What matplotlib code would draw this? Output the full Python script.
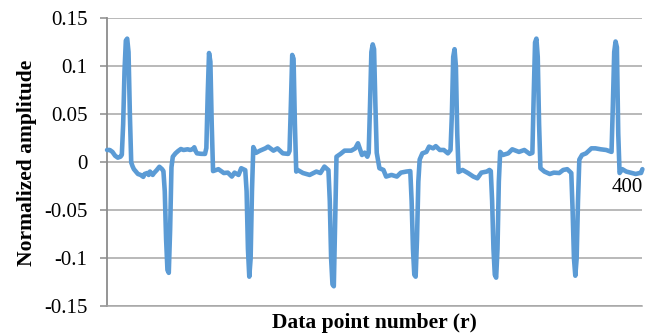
import matplotlib
matplotlib.use("Agg")
import matplotlib.pyplot as plt
import numpy as np

# data point number (r) and normalized amplitude
point_no = [1, 3, 5, 7, 9, 11, 12, 13, 14, 15, 16, 17, 18, 19, 20, 21, 24, 26, 28, 29,
            31, 32, 33, 35, 36, 38, 40, 42, 43, 44, 45, 46, 47, 48, 49, 50, 52, 54, 56, 58,
            61, 63, 65, 66, 67, 68, 71, 74, 75, 76, 77, 78, 79, 80,
            84, 88, 91, 94, 96, 99, 101, 104, 105, 106, 107, 108, 109, 110, 112, 115, 119,
            121, 125, 128, 132, 136, 137, 138, 139, 140, 141, 142,
            143, 147, 152, 157, 160, 163, 166, 167, 168, 169, 170, 171, 172, 175, 178, 183,
            186, 188, 191, 193, 195, 196, 197, 198, 199, 200, 201, 202, 204,
            207, 209, 213, 217, 220, 224, 227, 228, 229, 230, 231, 232, 233, 234, 236, 239,
            241, 244, 246, 249, 252, 255, 257, 258, 259, 260, 261, 262, 263,
            266, 270, 274, 277, 280, 284, 286, 287, 288, 289, 290, 291, 292, 293, 294, 296,
            300, 303, 308, 312, 316, 318, 319, 320, 321, 322, 323, 324,
            327, 331, 334, 338, 341, 344, 347, 348, 349, 350, 351, 352, 353, 355, 358, 362,
            365, 369, 373, 377, 378, 379, 380, 381, 382, 383,
            385, 388, 391, 395, 398, 399, 400]
amplitude = [0.013, 0.013, 0.011, 0.007, 0.005, 0.006, 0.008, 0.04, 0.095, 0.127, 0.129, 0.115,
             0.05, 0.0, -0.004, -0.007, -0.012, -0.013, -0.015, -0.012,
             -0.011, -0.013, -0.0095, -0.013, -0.011, -0.008, -0.0045, -0.007, -0.009, -0.03,
             -0.08, -0.112, -0.115, -0.07, -0.005, 0.006, 0.0095, 0.012, 0.014, 0.013,
             0.0137, 0.013, 0.014, 0.0158, 0.012, 0.0095, 0.009, 0.0089, 0.015, 0.07, 0.114,
             0.105, 0.04, -0.009,
             -0.007, -0.011, -0.0106, -0.0147, -0.0106, -0.013, -0.006, -0.008, -0.03, -0.09,
             -0.119, -0.1, -0.03, 0.016, 0.010, 0.0123, 0.0147,
             0.0165, 0.0123, 0.0147, 0.0095, 0.0089, 0.012, 0.06, 0.112, 0.108, 0.04, -0.0095,
             -0.0078, -0.011, -0.013, -0.0095, -0.011, -0.0043, -0.008, -0.04, -0.1, -0.127,
             -0.129, -0.06, 0.006, 0.0089, 0.0123, 0.0123,
             0.0147, 0.02, 0.0078, 0.0102, 0.006, 0.01, 0.06, 0.115, 0.123, 0.118, 0.06, 0.01,
             -0.006,
             -0.0078, -0.0147, -0.013, -0.0147, -0.0106, -0.0095, -0.009, -0.04, -0.09, -0.117,
             -0.119, -0.08, -0.02, 0.003, 0.0095, 0.011,
             0.0165, 0.0147, 0.017, 0.013, 0.013, 0.0095, 0.013, 0.05, 0.11, 0.118, 0.1, 0.03,
             -0.01,
             -0.0078, -0.011, -0.0147, -0.0165, -0.0106, -0.0095, -0.0078, -0.009, -0.04, -0.09,
             -0.117, -0.12, -0.09, -0.02, 0.011, 0.0078,
             0.0095, 0.0137, 0.011, 0.013, 0.0089, 0.01, 0.07, 0.125, 0.129, 0.11, 0.04, -0.006,
             -0.0095, -0.012, -0.0106, -0.011, -0.0078, -0.007, -0.011, -0.05, -0.1, -0.118,
             -0.1, -0.04, 0.003, 0.0078, 0.0095, 0.0147,
             0.0147, 0.0137, 0.013, 0.011, 0.06, 0.115, 0.126, 0.12, 0.03, -0.011,
             -0.007, -0.0095, -0.0106, -0.012, -0.011, -0.011, -0.007]

Y_TICKS = [-0.15, -0.1, -0.05, 0, 0.05, 0.1, 0.15]
Y_TICK_LABELS = ["-0.15", "-0.1", "-0.05", "0", "0.05", "0.1", "0.15"]
END_LABEL = "400"

plt.rcParams.update({'font.family': 'Liberation Serif'})

fig = plt.figure(figsize=(6.65, 3.36), dpi=100)
ax = fig.add_axes([0.161, 0.088, 0.805, 0.857])

ax.plot(point_no, amplitude, color="#5b9bd5", linewidth=3.3,
        solid_joinstyle="round", solid_capstyle="round", clip_on=False, zorder=3)

ax.set_xlim(1, 400)
ax.set_ylim(-0.15, 0.15)
ax.set_yticks(Y_TICKS)
ax.set_yticklabels(Y_TICK_LABELS)
ax.set_xticks([])
ax.grid(axis='y', color="#a6a6a6", linewidth=1.1, zorder=0)

for s in ["top", "right"]:
    ax.spines[s].set_visible(False)
ax.spines["left"].set_color("#8c8c8c")
ax.spines["left"].set_linewidth(1.3)
ax.spines["bottom"].set_color("#a6a6a6")
ax.spines["bottom"].set_linewidth(1.1)

ax.tick_params(axis='y', which='major', labelsize=15, length=5, width=1.1,
               color="#8c8c8c", pad=9)

ax.text(389, -0.0265, END_LABEL, fontsize=15, ha='center', va='center')

ax.set_xlabel('Data point number (r)', fontsize=15.5, fontweight='bold', labelpad=5)
ax.set_ylabel('Normalized amplitude', fontsize=15.5, fontweight='bold', labelpad=5)

plt.savefig("out.png", dpi=100)
